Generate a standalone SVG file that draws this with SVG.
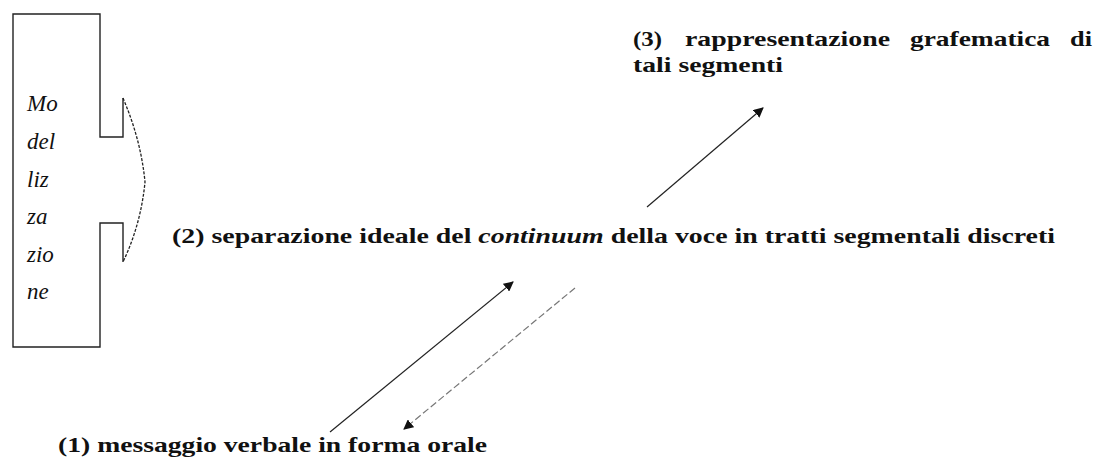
<svg xmlns="http://www.w3.org/2000/svg" width="1097" height="457" viewBox="0 0 1097 457">
  <style>
    .lbl { font-family: "Liberation Serif", "Times New Roman", serif; font-weight: bold; font-size: 22px; fill: #111; }
    .vert { font-family: "Liberation Serif", "Times New Roman", serif; font-style: italic; font-size: 23px; fill: #111; }
    .conn { stroke: #222; stroke-width: 1.2; fill: none; }
    .conn-dash { stroke: #777; stroke-width: 1.2; fill: none; stroke-dasharray: 7 3; }
  </style>
  <defs>
    <marker id="ah" viewBox="0 0 10 10" refX="9" refY="5" markerWidth="10" markerHeight="10" markerUnits="userSpaceOnUse" orient="auto">
      <path d="M0,0 L10,5 L0,10 z" fill="#111"/>
    </marker>
  </defs>
  <rect width="1097" height="457" fill="#ffffff"/>

  <g id="node-modellizzazione">
    <path d="M123,98 Q141,140 145,182 Q141,224 123,262" fill="none" stroke="#222" stroke-width="1.3" stroke-dasharray="3 1.5"/>
    <path d="M123,98 V137 H100 V14 H13 V347 H100 V223 H123 V262" fill="none" stroke="#222" stroke-width="1.4"/>
    <text class="vert" x="27" y="111">Mo</text>
    <text class="vert" x="27" y="149">del</text>
    <text class="vert" x="27" y="187">liz</text>
    <text class="vert" x="27" y="224">za</text>
    <text class="vert" x="27" y="262">zio</text>
    <text class="vert" x="27" y="299">ne</text>
  </g>

  <g id="node-3">
    <text class="lbl"><tspan x="633" y="46" textLength="29" lengthAdjust="spacingAndGlyphs">(3)</tspan><tspan x="685" y="46" textLength="205" lengthAdjust="spacingAndGlyphs">rappresentazione</tspan><tspan x="910" y="46" textLength="140" lengthAdjust="spacingAndGlyphs">grafematica</tspan><tspan x="1070" y="46" textLength="22" lengthAdjust="spacingAndGlyphs">di</tspan></text>
    <text class="lbl" x="633" y="72" textLength="150" lengthAdjust="spacingAndGlyphs">tali segmenti</text>
  </g>

  <g id="node-2">
    <text class="lbl" x="172" y="243" textLength="883" lengthAdjust="spacingAndGlyphs">(2) separazione ideale del <tspan font-style="italic">continuum</tspan> della voce in tratti segmentali discreti</text>
  </g>

  <g id="node-1">
    <text class="lbl" x="58" y="452" textLength="429" lengthAdjust="spacingAndGlyphs">(1) messaggio verbale in forma orale</text>
  </g>

  <g id="connectors">
    <line class="conn" x1="330" y1="432" x2="513" y2="282" marker-end="url(#ah)"/>
    <line class="conn-dash" x1="575" y1="288" x2="404" y2="429" marker-end="url(#ah)"/>
    <line class="conn" x1="647" y1="207" x2="763" y2="108" marker-end="url(#ah)"/>
  </g>
</svg>
